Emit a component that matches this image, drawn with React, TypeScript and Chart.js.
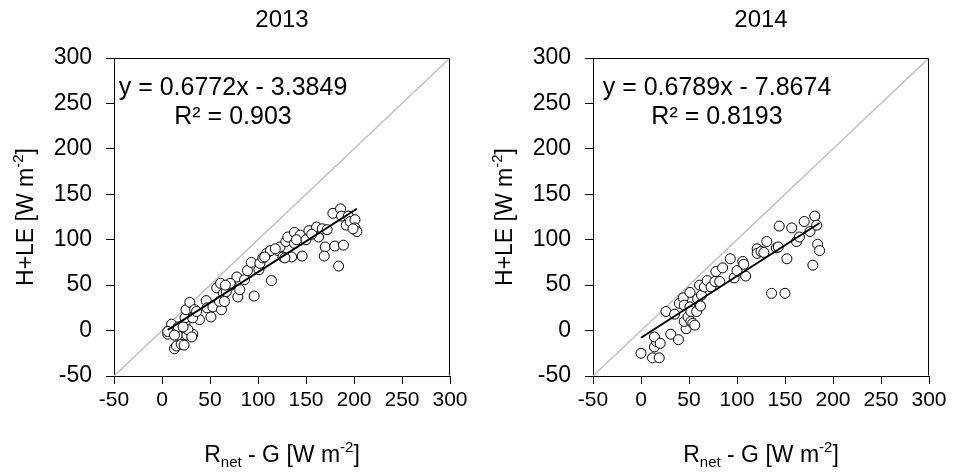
import React, { useEffect, useRef } from "react";
import { Chart, registerables } from "chart.js";

Chart.register(...registerables);

// ---------- data ----------
const AXIS_MIN = -50;
const AXIS_MAX = 300;
const AXIS_STEP = 50;

const TITLES = ["2013", "2014"];

const X_2013 = [
  6, 10, 13, 15, 20, 23, 16, 26, 32, 17,
  24, 24, 25, 29, 34, 39, 32, 6, 13, 27,
  31, 22, 46, 47, 51, 53, 62, 60, 57, 61,
  64, 67, 72, 78, 79, 81, 86, 89, 93, 96,
  101, 102, 105, 109, 113, 114, 121, 123, 126, 129,
  131, 135, 138, 138, 144, 146, 153, 161, 163, 167,
  170, 169, 178, 180, 184, 186, 187, 189, 192, 194,
  196, 201, 201, 203, 107, 128, 140, 71, 66, 199,
  172, 36, 65, 118, 150, 156,
];
const Y_2013 = [
  -4, 7, -20, -17, -15, -16, -5, -5, -4, 4,
  8, 14, 23, 31, 23, 12, 14, -1, -5, 1,
  -7, 4, 33, 25, 15, 26, 23, 32, 47, 52,
  41, 43, 50, 59, 37, 45, 56, 66, 75, 38,
  67, 74, 80, 85, 88, 55, 88, 92, 81, 98,
  103, 81, 108, 96, 105, 82, 110, 114, 103, 112,
  92, 82, 129, 93, 71, 134, 126, 94, 116, 126,
  120, 122, 113, 109, 81, 80, 100, 52, 50, 112,
  111, 21, 32, 90, 100, 106,
];

const X_2014 = [
  0, 12, 19, 14, 16, 14, 20, 31, 39, 26,
  35, 40, 44, 45, 47, 45, 49, 51, 51, 52,
  52, 54, 58, 59, 62, 63, 61, 66, 69, 73,
  77, 78, 82, 85, 93, 97, 100, 106, 107, 109,
  121, 121, 125, 131, 136, 141, 143, 144, 150, 152,
  157, 162, 165, 170, 176, 181, 183, 184, 179, 186,
  128, 56,
];
const Y_2014 = [
  -25, -30, -30, -18, -12, -7, -14, -4, -10, 21,
  18, 30, 36, 28, 2, 10, 15, 42, 26, 21,
  10, 8, 21, 35, 27, 39, 50, 48, 55, 48,
  54, 65, 54, 69, 79, 58, 66, 76, 73, 60,
  90, 85, 87, 98, 41, 91, 92, 115, 41, 79,
  113, 98, 103, 120, 109, 126, 116, 95, 72, 88,
  86, 6,
];

// regression: [slope, intercept]
const FIT_2013 = [0.6772, -3.3849];
const FIT_2014 = [0.6789, -7.8674];
const EQ_2013 = ["y = 0.6772x - 3.3849", "R² = 0.903"];
const EQ_2014 = ["y = 0.6789x - 7.8674", "R² = 0.8193"];

// ---------- styling ----------
const FONT = "'Liberation Sans', Arial, Helvetica, sans-serif";

type Seg = { t: string; s: number; dy: number };

const X_TITLE: Seg[] = [
  { t: "R", s: 23, dy: 0 },
  { t: "net", s: 15, dy: 5 },
  { t: " - G [W m", s: 23, dy: 0 },
  { t: "-2", s: 15, dy: -10 },
  { t: "]", s: 23, dy: 0 },
];
const Y_TITLE: Seg[] = [
  { t: "H+LE [W m", s: 23, dy: 0 },
  { t: "-2", s: 15, dy: -10 },
  { t: "]", s: 23, dy: 0 },
];

function drawRich(ctx: CanvasRenderingContext2D, segs: Seg[], cx: number, baseY: number) {
  let total = 0;
  const widths = segs.map((sg) => {
    ctx.font = `${sg.s}px ${FONT}`;
    const w = ctx.measureText(sg.t).width;
    total += w;
    return w;
  });
  let x = cx - total / 2;
  ctx.textAlign = "left";
  ctx.textBaseline = "alphabetic";
  segs.forEach((sg, i) => {
    ctx.font = `${sg.s}px ${FONT}`;
    ctx.fillText(sg.t, x, baseY + sg.dy);
    x += widths[i];
  });
}

type PanelProps = {
  xs: number[];
  ys: number[];
  fit: number[];
  eq: string[];
  title: string;
  left: number;
  yAxisW: number;
  padR: number;
  eqOffset: number;
};

function Panel({ xs, ys, fit, eq, title, left, yAxisW, padR, eqOffset }: PanelProps) {
  const ref = useRef<HTMLCanvasElement>(null);
  useEffect(() => {
    if (!ref.current) return;
    const pts = xs.map((x, i) => ({ x, y: ys[i] }));
    const xmin = Math.min(...xs);
    const xmax = Math.max(...xs);
    const fitPts = [xmin, xmax].map((x) => ({ x, y: fit[0] * x + fit[1] }));

    const textPlugin = {
      id: "panelText",
      afterDraw(chart: any) {
        const ctx: CanvasRenderingContext2D = chart.ctx;
        const a = chart.chartArea;
        ctx.save();
        // frame (top + right)
        ctx.strokeStyle = "#000";
        ctx.lineWidth = 1;
        ctx.beginPath();
        const t = Math.round(a.top) + 0.5;
        const r = Math.round(a.right) - 0.5;
        const l = Math.round(a.left) + 0.5;
        const b = Math.round(a.bottom) - 0.5;
        ctx.moveTo(l, t);
        ctx.lineTo(r, t);
        ctx.lineTo(r, b);
        ctx.stroke();

        ctx.fillStyle = "#000";
        const cx = (a.left + a.right) / 2;
        // title
        ctx.font = `24px ${FONT}`;
        ctx.textAlign = "center";
        ctx.textBaseline = "middle";
        ctx.fillText(title, cx, 20);
        // equation
        ctx.font = `25px ${FONT}`;
        ctx.fillText(eq[0], a.left + eqOffset, a.top + 30);
        ctx.fillText(eq[1], a.left + eqOffset, a.top + 59);
        // x title
        drawRich(ctx, X_TITLE, cx, a.bottom + 86);
        // y title
        ctx.translate(a.left - 81, (a.top + a.bottom) / 2);
        ctx.rotate(-Math.PI / 2);
        drawRich(ctx, Y_TITLE, 0, 0);
        ctx.restore();
      },
    };

    const chart = new Chart(ref.current, {
      type: "scatter",
      data: {
        datasets: [
          {
            data: fitPts,
            showLine: true,
            borderColor: "#000",
            borderWidth: 2,
            pointRadius: 0,
            order: 0,
          },
          {
            data: pts,
            pointRadius: 5,
            pointBackgroundColor: "#fff",
            pointBorderColor: "#000",
            pointBorderWidth: 1,
            order: 1,
          },
          {
            data: [
              { x: AXIS_MIN, y: AXIS_MIN },
              { x: AXIS_MAX, y: AXIS_MAX },
            ],
            showLine: true,
            borderColor: "#c0c0c0",
            borderWidth: 1.5,
            pointRadius: 0,
            order: 2,
          },
        ],
      } as any,
      options: {
        animation: false,
        responsive: false,
        events: [],
        layout: { padding: { top: 58, right: padR, left: 0, bottom: 0 } },
        plugins: {
          legend: { display: false },
          tooltip: { enabled: false },
          title: { display: false },
        },
        scales: {
          x: {
            type: "linear",
            min: AXIS_MIN,
            max: AXIS_MAX,
            ticks: {
              stepSize: AXIS_STEP,
              autoSkip: false,
              maxRotation: 0,
              color: "#000",
              font: { family: FONT, size: 21 },
              padding: 4,
            },
            grid: {
              drawOnChartArea: false,
              drawTicks: true,
              tickLength: 8,
              color: "#000",
            },
            border: { display: true, color: "#000", width: 1 },
            afterFit: (s: any) => {
              s.height = 97;
            },
          },
          y: {
            type: "linear",
            min: AXIS_MIN,
            max: AXIS_MAX,
            ticks: {
              stepSize: AXIS_STEP,
              autoSkip: false,
              color: "#000",
              font: { family: FONT, size: 23 },
              padding: 14,
            },
            grid: {
              drawOnChartArea: false,
              drawTicks: true,
              tickLength: 8,
              color: "#000",
            },
            border: { display: true, color: "#000", width: 1 },
            afterFit: (s: any) => {
              s.width = yAxisW;
            },
          },
        },
      } as any,
      plugins: [textPlugin],
    });
    return () => chart.destroy();
  }, []);

  return (
    <div style={{ position: "absolute", left, top: 0, width: 477, height: 473 }}>
      <canvas ref={ref} width={477} height={473} style={{ width: 477, height: 473, display: "block" }} />
    </div>
  );
}

export default function App() {
  return (
    <div
      style={{
        position: "absolute",
        left: 0,
        top: 0,
        width: 954,
        height: 473,
        background: "#fff",
        overflow: "hidden",
      }}
    >
      <Panel xs={X_2013} ys={Y_2013} fit={FIT_2013} eq={EQ_2013} title={TITLES[0]} left={0} yAxisW={114} padR={27} eqOffset={119} />
      <Panel xs={X_2014} ys={Y_2014} fit={FIT_2014} eq={EQ_2014} title={TITLES[1]} left={477} yAxisW={116} padR={25} eqOffset={124} />
    </div>
  );
}
